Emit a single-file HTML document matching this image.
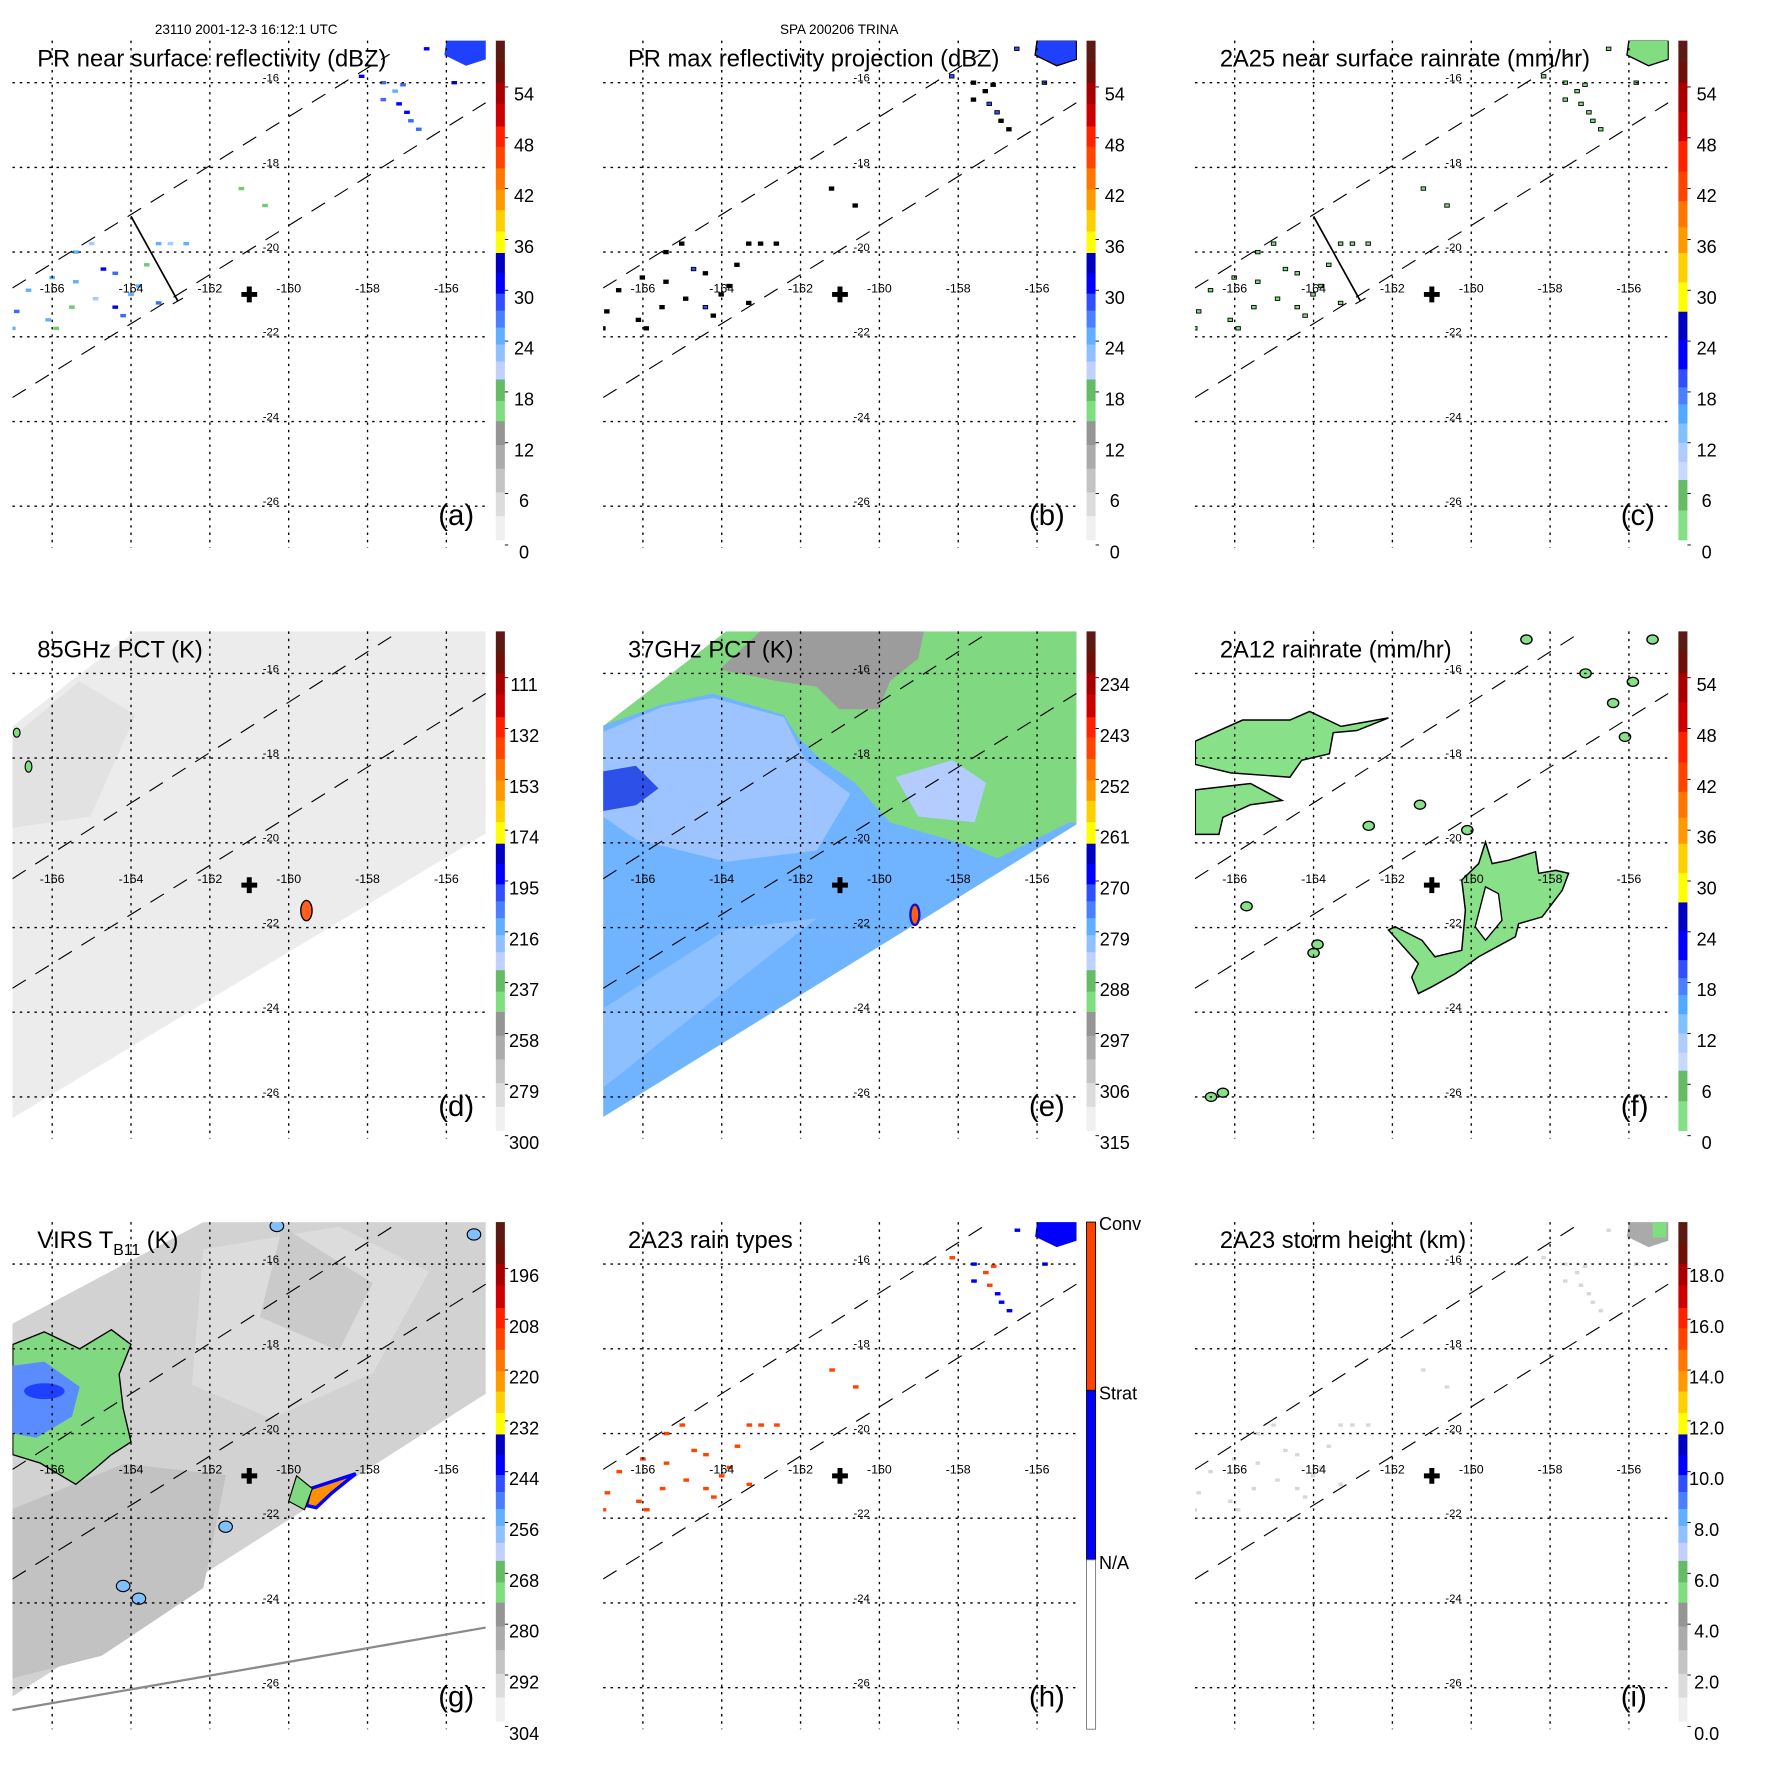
<!DOCTYPE html>
<html><head><meta charset="utf-8"><title>TRMM TRINA panels</title>
<style>html,body{margin:0;padding:0;background:#fff}svg{display:block}text{font-family:"Liberation Sans",sans-serif}</style>
</head><body>
<svg id="fig" xmlns="http://www.w3.org/2000/svg" width="1771" height="1771" viewBox="0 0 1568 1568">
<rect width="1568" height="1568" fill="#fff"/>
<text x="218" y="30" font-size="12" text-anchor="middle">23110 2001-12-3 16:12:1 UTC</text>
<text x="743" y="30" font-size="12" text-anchor="middle">SPA 200206 TRINA</text>
</svg>
<script>
// ---- data ----
const lonTicks=[-166,-164,-162,-160,-158,-156];
const latTicks=[-16,-18,-20,-22,-24,-26];
const centerLon=-161.0, centerLat=-21.0;
const labelsA=["54","48","42","36","30","24","18","12","6","0"];
const labelsD=["111","132","153","174","195","216","237","258","279","300"];
const labelsE=["234","243","252","261","270","279","288","297","306","315"];
const labelsG=["196","208","220","232","244","256","268","280","292","304"];
const labelsI=["18.0","16.0","14.0","12.0","10.0","8.0","6.0","4.0","2.0","0.0"];
const labelsH=["Conv","Strat","N/A"];
// PR rain pixels (lon, lat, dBZ)
const rainLon=[-156.5,-158.15,-157.6,-157.1,-157.6,-157.2,-157.0,-156.7,-155.8,-155.7,-155.2,-155.9,-155.5,-155.35,-157.3,-156.9,
 -166.9,-166.1,-165.4,-164.7,-164.4,-164.9,-164.4,-164.2,-163.8,-163.3,-163.0,-162.6,-163.3,-165.5,-166.0,-165.4,-165.0,-167.0,-165.9,-163.6,-161.2,-160.6,-166.6,-164.0];
const rainLat=[-15.2,-15.85,-16.0,-16.05,-16.4,-16.5,-16.7,-17.1,-16.0,-15.2,-15.2,-15.35,-15.45,-15.1,-16.2,-16.9,
 -21.4,-21.6,-20.7,-20.4,-20.5,-21.1,-21.3,-21.5,-20.8,-19.8,-19.8,-19.8,-21.2,-21.3,-20.6,-20.0,-19.8,-21.8,-21.8,-20.3,-18.5,-18.9,-20.9,-21.0];
const rainDbz=[34,30,28,29,27,30,31,28,30,29,28,27,30,26,25,28,
 28,26,24,30,28,22,30,29,26,24,22,24,28,18,24,26,22,24,20,18,20,18,24,26];
// 2A23 rain type: 1 = convective, 2 = stratiform
const rainType=[2,1,2,1,2,1,2,2,2,2,2,1,2,2,1,2, 1,1,1,1,1,1,1,1,1,1,1,1,1,1,1,1,1,1,1,1,1,1,1,1];
// 2A12 rain areas (lon/lat polygons)
const f12BlobA=[[-167.0,-17.6],[-165.8,-17.1],[-164.6,-17.1],[-164.1,-16.9],[-163.3,-17.25],[-162.1,-17.05],[-162.9,-17.35],[-163.5,-17.4],[-163.6,-17.9],[-164.3,-18.05],[-164.6,-18.45],[-166.1,-18.35],[-167.0,-18.15]];
const f12BlobB=[[-167.0,-18.75],[-165.6,-18.6],[-164.8,-19.0],[-165.6,-19.1],[-166.3,-19.4],[-166.4,-19.8],[-167.0,-19.8]];
const f12BlobC=[[-159.64,-19.98],[-159.47,-20.49],[-159.05,-20.41],[-158.37,-20.21],[-158.29,-20.72],[-157.86,-20.65],[-157.53,-20.72],[-157.69,-21.12],[-158.2,-21.75],[-158.8,-21.91],[-158.88,-22.22],[-159.81,-22.69],[-160.41,-23.09],[-161.0,-23.4],[-161.34,-23.56],[-161.51,-23.17],[-161.34,-22.85],[-162.1,-22.06],[-161.93,-21.98],[-161.25,-22.3],[-160.92,-22.69],[-160.24,-22.54],[-160.15,-21.59],[-160.24,-20.88],[-159.81,-20.49]];
const f12Hole=[[-159.64,-21.04],[-159.31,-21.2],[-159.22,-21.83],[-159.64,-22.3],[-159.9,-21.98]];
const f12SmallLon=[-158.6,-155.4,-155.9,-156.4,-156.1,-157.1,-161.3,-162.6,-166.6,-166.3,-160.1,-163.9,-165.7,-164.0];
const f12SmallLat=[-15.2,-15.2,-16.2,-16.7,-17.5,-16.0,-19.1,-19.6,-26.0,-25.9,-19.7,-22.4,-21.5,-22.6];
// VIRS cold cloud areas
const virsGreen=[[-167.0,-17.9],[-166.2,-17.6],[-165.3,-18.0],[-164.5,-17.55],[-164.0,-17.9],[-164.3,-18.6],[-164.2,-19.4],[-164.0,-20.2],[-164.5,-20.5],[-165.0,-20.9],[-165.4,-21.2],[-166.3,-20.7],[-167.0,-20.5]];
const virsBlue=[[-167.0,-18.4],[-166.2,-18.3],[-165.3,-18.9],[-165.5,-19.6],[-166.4,-20.1],[-167.0,-20.0]];
const virsOrange=[[-159.45,-21.3],[-158.3,-20.95],[-158.9,-21.4],[-159.3,-21.75],[-159.55,-21.7]];
const virsSmallLon=[-164.2,-163.8,-160.3,-155.3,-161.6];
const virsSmallLat=[-23.6,-23.9,-15.1,-15.3,-22.2];

// ---- geometry ----
const svg=document.getElementById('fig');
const NS='http://www.w3.org/2000/svg';
function X(lon){return 255.6+(lon+160)*34.9;}
function Y(lat){return 73.2+(-16-lat)*37.5;}
const L=11,R=430.5,T=36,B=485;
function mk(tag,attrs,parent){const e=document.createElementNS(NS,tag);for(const k in attrs)e.setAttribute(k,attrs[k]);parent.appendChild(e);return e;}
function poly(arr){return arr.map(p=>X(p[0]).toFixed(1)+','+Y(p[1]).toFixed(1)).join(' ');}

const segA=[[36,55,'#5c1a12'],[55,73,'#6e1008'],[73,92,'#a80000'],[92,112,'#cc0000'],[112,130,'#ff2200'],[130,149,'#ff4400'],[149,168,'#ff7700'],[168,186,'#ff9900'],[186,205,'#ffd000'],[205,224,'#ffff00'],[224,242,'#0000c0'],[242,260,'#0000ff'],[260,275,'#3050ff'],[275,290,'#4a80ff'],[290,305,'#60b0ff'],[305,320,'#90c0ff'],[320,336,'#c0d0ff'],[336,355,'#66bb66'],[355,373,'#80dd80'],[373,394,'#959595'],[394,415,'#ababab'],[415,436,'#c4c4c4'],[436,457,'#dcdcdc'],[457,478,'#f0f0f0']];
const segC=[[36,55,'#5c1a12'],[55,73,'#6e1008'],[73,99,'#a80000'],[99,125,'#cc0000'],[125,152,'#ff2200'],[152,178,'#ff4400'],[178,201,'#ff7700'],[201,224,'#ff9900'],[224,250,'#ffd000'],[250,276,'#ffff00'],[276,301,'#0000c0'],[301,327,'#0000ff'],[327,343,'#3050ff'],[343,358,'#4a80ff'],[358,375,'#50a8ff'],[375,392,'#80c0ff'],[392,409,'#b0ccff'],[409,425,'#c8d8ff'],[425,452,'#66bb66'],[452,478,'#84e084']];

function colA(v){ if(v>=30)return '#0000ff'; if(v>=27)return '#3a6aff'; if(v>=24)return '#60b0ff'; if(v>=21)return '#a8c8ff'; return '#70cc70';}

const panels=[
 {id:'a',ox:0,oy:0,title:'PR near surface reflectivity (dBZ)',labels:labelsA,seg:segA},
 {id:'b',ox:523,oy:0,title:'PR max reflectivity projection (dBZ)',labels:labelsA,seg:segA},
 {id:'c',ox:1047,oy:0,title:'2A25 near surface rainrate (mm/hr)',labels:labelsA,seg:segC},
 {id:'d',ox:0,oy:523,title:'85GHz PCT (K)',labels:labelsD,seg:segA},
 {id:'e',ox:523,oy:523,title:'37GHz PCT (K)',labels:labelsE,seg:segA},
 {id:'f',ox:1047,oy:523,title:'2A12 rainrate (mm/hr)',labels:labelsA,seg:segC},
 {id:'g',ox:0,oy:1046,title:'VIRS',labels:labelsG,seg:segA},
 {id:'h',ox:523,oy:1046,title:'2A23 rain types',labels:labelsH,seg:null},
 {id:'i',ox:1047,oy:1046,title:'2A23 storm height (km)',labels:labelsI,seg:segA}
];

panels.forEach(p=>{
 const g=mk('g',{transform:`translate(${p.ox},${p.oy})`},svg);
 
 
 const cp=mk('clipPath',{id:'clip'+p.id},g);
 mk('rect',{x:L,y:T,width:R-L,height:B-T},cp);
 const map=mk('g',{'clip-path':`url(#clip${p.id})`},g);
 
 
 drawField(p.id,map);
 lonTicks.forEach(lon=>{
  const ln=mk('line',{x1:X(lon),x2:X(lon),y1:T,y2:B,stroke:'#000','stroke-width':1.2,'stroke-dasharray':'2.2,4.3'},g);
  
  
  const t=mk('text',{x:X(lon),y:Y(-20.95),'font-size':11,'text-anchor':'middle'},g);
  
  
  t.textContent=String(lon);
 });
 latTicks.forEach(lat=>{
  const ln=mk('line',{x1:L,x2:R,y1:Y(lat),y2:Y(lat),stroke:'#000','stroke-width':1.2,'stroke-dasharray':'2.2,4.3'},g);
  
  
  const t=mk('text',{x:X(-160.45),y:Y(lat)-1,'font-size':10,'text-anchor':'middle'},g);
  
  
  t.textContent=String(lat);
 });
 const sw=mk('g',{'clip-path':`url(#clip${p.id})`},g);
 
 
 mk('line',{x1:11,y1:255,x2:p.oy==0?345:360,y2:p.oy==0?48:32,stroke:'#000','stroke-width':1,'stroke-dasharray':'14,10'},sw);
 mk('line',{x1:11,y1:352,x2:430,y2:91,stroke:'#000','stroke-width':1,'stroke-dasharray':'14,10'},sw);
 if(p.id==='a'||p.id==='c'){
  const cs=mk('line',{x1:116,y1:191.5,x2:157.6,y2:266.8,stroke:'#000','stroke-width':1.5},g);
  
  
  mk('line',{x1:153,y1:269,x2:162,y2:264,stroke:'#000','stroke-width':1},g);
 }
 if(p.id==='g'){
  const ol=mk('line',{x1:11,y1:468,x2:430,y2:395,stroke:'#8a8a8a','stroke-width':2},g);
  
  
 }
 const cx=X(centerLon),cy=Y(centerLat);
 const cr=mk('path',{d:`M${cx-7},${cy-2.2}h14v4.4h-14zM${cx-2.2},${cy-7}h4.4v14h-4.4z`,fill:'#000'},g);
 
 
 const tt=mk('text',{x:33,y:59,'font-size':21},g);
 
 
 if(p.id==='g'){
  tt.innerHTML='VIRS T<tspan font-size="14" dy="6">B11</tspan><tspan dy="-6"> (K)</tspan>';
 } else tt.textContent=p.title;
 const lt=mk('text',{x:388,y:465,'font-size':26},g);
 
 
 lt.textContent='('+p.id+')';
 const cb=mk('g',{},g);
 
 
 if(p.seg){
  p.seg.forEach(s=>mk('rect',{x:439,y:s[0],width:8,height:s[1]-s[0]+0.4,fill:s[2]},cb));
  p.labels.forEach((lab,k)=>{
   const y=83+45*k+(k==9?0.5:0);
   mk('line',{x1:447,x2:450,y1:y-6,y2:y-6,stroke:'#000','stroke-width':0.8},cb);
   const t=mk('text',{x:464,y:y+6,'font-size':16,'text-anchor':'middle'},cb);
   
   
   t.textContent=lab;
  });
 } else {
  mk('rect',{x:439,y:36,width:8,height:149,fill:'#ff4400',stroke:'#000','stroke-width':0.8},cb);
  mk('rect',{x:439,y:185,width:8,height:150,fill:'#0000ff',stroke:'#000','stroke-width':0.8},cb);
  mk('rect',{x:439,y:335,width:8,height:150,fill:'#fff',stroke:'#777','stroke-width':0.8},cb);
  p.labels.forEach((lab,k)=>{
   const t=mk('text',{x:450,y:43+150*k,'font-size':16},cb);
   
   
   t.textContent=lab;
  });
 }
});

function rainPixels(map,kind){
 for(let i=0;i<rainLon.length;i++){
  const x=X(rainLon[i]),y=Y(rainLat[i]);
  let fill,stroke='none';
  if(kind==='a')fill=colA(rainDbz[i]);
  else if(kind==='b'){fill=rainDbz[i]>=30?'#3050ff':'#000';stroke='#000';}
  else if(kind==='c'){fill='#80dd80';stroke='#000';}
  else if(kind==='h')fill=rainType[i]===1?'#ff4400':'#0000ff';
  else fill='#d8d8d8';
  const r=mk('rect',{x:x-2.5,y:y-1.5,width:kind==='a'||kind==='h'?5:4,height:3,fill:fill,stroke:stroke,'stroke-width':0.8},map);
  
  
 }
 let pf={a:'#2040ff',b:'#2040ff',c:'#80dd80',h:'#0000ff',i:'#aaaaaa'}[kind];
 const pt=mk('path',{d:`M${X(-156.0)},${Y(-15.0)}L${X(-155.0)},${Y(-15.0)}L${X(-155.0)},${Y(-15.45)}L${X(-155.5)},${Y(-15.6)}L${X(-156.05)},${Y(-15.35)}Z`,fill:pf,stroke:kind==='b'||kind==='c'?'#000':'none','stroke-width':1.2},map);
 
 
 if(kind==='i'){
  mk('rect',{x:X(-155.4),y:Y(-15.0),width:12,height:14,fill:'#80dd80'},map);
 }
}

function drawField(id,map){
 if(id==='a'||id==='b'||id==='c'||id==='h'||id==='i'){rainPixels(map,id);return;}
 if(id==='d'){
  const s=mk('polygon',{points:'11,120 120,36 430,36 430,215 11,467',fill:'#ececec'},map);
  
  
  mk('polygon',{points:'11,130 70,80 120,110 80,200 11,210',fill:'#e2e2e2'},map);
  const sp=mk('ellipse',{cx:X(-159.55),cy:Y(-21.6),rx:5,ry:9,fill:'#ff6020',stroke:'#000','stroke-width':1.2},map);
  
  
  mk('ellipse',{cx:X(-166.6),cy:Y(-18.2),rx:3,ry:5,fill:'#80dd80',stroke:'#000','stroke-width':1},map);
  mk('ellipse',{cx:X(-166.9),cy:Y(-17.4),rx:3,ry:4,fill:'#80dd80',stroke:'#000','stroke-width':1},map);
 }
 if(id==='e'){
  const s=mk('polygon',{points:'11,120 120,36 430,36 430,207 11,466',fill:'#70b4ff'},map);
  
  
  mk('polygon',{points:'11,125 63,103 108,95 171,112 190,150 230,180 200,230 120,240 40,220 11,200',fill:'#9ec4ff'},map);
  mk('polygon',{points:'11,160 40,155 60,175 40,190 11,195',fill:'#2d50e8'},map);
  mk('polygon',{points:'11,370 120,300 200,290 11,440',fill:'#8cc0ff'},map);
  const gr=mk('polygon',{points:'11,120 120,36 430,36 430,206 424,205 360,237 329,224 265,205 253,192 234,170 202,148 183,129 171,110 108,91 63,101 9,120',fill:'#80d880'},map);
  
  
  mk('polygon',{points:'270,165 320,150 350,170 340,205 290,200',fill:'#b4ccff'},map);
  const gy=mk('polygon',{points:'114,70 150,36 295,36 290,60 265,80 255,105 220,105 200,85 165,80 140,75',fill:'#9c9c9c'},map);
  
  
  mk('ellipse',{cx:X(-159.1),cy:Y(-21.7),rx:4,ry:9,fill:'#ff6010',stroke:'#1010c0','stroke-width':2},map);
 }
 if(id==='f'){
  [f12BlobA,f12BlobB,f12BlobC].forEach(b=>{
   const pl=mk('polygon',{points:poly(b),fill:'#88e088',stroke:'#000','stroke-width':1.3},map);
   
   
  });
  mk('polygon',{points:poly(f12Hole),fill:'#fff',stroke:'#000','stroke-width':1.2},map);
  for(let i=0;i<f12SmallLon.length;i++){
   const e=mk('ellipse',{cx:X(f12SmallLon[i]),cy:Y(f12SmallLat[i]),rx:5,ry:4,fill:'#88e088',stroke:'#000','stroke-width':1.2},map);
   
   
  }
 }
 if(id==='g'){
  const s=mk('polygon',{points:'11,126 180,36 430,36 430,188 11,456',fill:'#d2d2d2'},map);
  
  
  mk('polygon',{points:'180,60 300,40 380,80 330,170 240,210 170,180',fill:'#dcdcdc'},map);
  mk('polygon',{points:'11,290 110,250 200,260 180,360 90,420 11,440',fill:'#c2c2c2'},map);
  mk('polygon',{points:'250,40 330,90 300,150 230,120',fill:'#cacaca'},map);
  const gg=mk('polygon',{points:poly(virsGreen),fill:'#80d880',stroke:'#000','stroke-width':1.2},map);
  
  
  mk('polygon',{points:poly(virsBlue),fill:'#5a8cff'},map);
  mk('ellipse',{cx:X(-166.2),cy:Y(-19.0),rx:18,ry:7,fill:'#2040ff'},map);
  const go=mk('polygon',{points:poly(virsOrange),fill:'#ff9000',stroke:'#0000ff','stroke-width':3},map);
  
  
  mk('polygon',{points:`${X(-159.8)},${Y(-21.0)} ${X(-159.4)},${Y(-21.3)} ${X(-159.6)},${Y(-21.8)} ${X(-160.0)},${Y(-21.6)}`,fill:'#80d880',stroke:'#000','stroke-width':1},map);
  for(let i=0;i<virsSmallLon.length;i++){
   const e=mk('ellipse',{cx:X(virsSmallLon[i]),cy:Y(virsSmallLat[i]),rx:6,ry:5,fill:'#80c0ff',stroke:'#000','stroke-width':1},map);
   
   
  }
 }
}
</script>
</body></html>
